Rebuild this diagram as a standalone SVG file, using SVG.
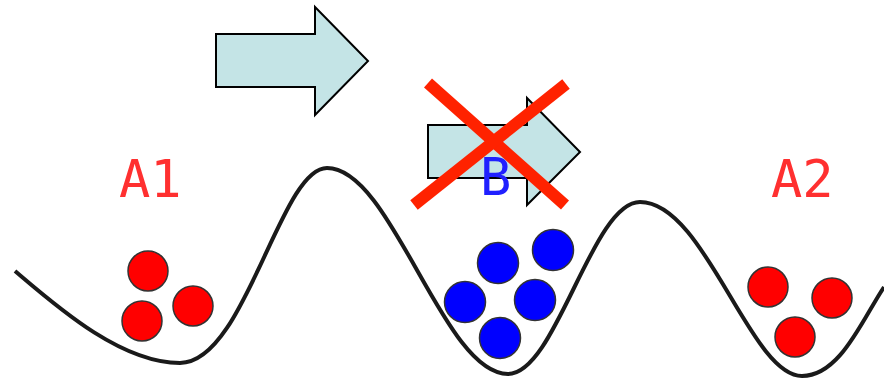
<svg xmlns="http://www.w3.org/2000/svg" width="884" height="379" viewBox="0 0 884 379">
<style>
.arrow{fill:#c4e4e6;stroke:#000;stroke-width:2;stroke-linejoin:miter}
.lbl{font-family:"DejaVu Sans Mono","Liberation Mono",monospace;font-size:52px}
.red{fill:#ff0000;stroke:#333;stroke-width:1.5}
.blue{fill:#0000ff;stroke:#333;stroke-width:1.5}
.cross{stroke:#ff2200;stroke-width:12;stroke-linecap:butt}
</style>
<rect width="884" height="379" fill="#fff"/>
<g id="landscape">
<path d="M15,271 C55,305 120,363 180,363 C245,363 280,168 327,168 C392,168 443,374 508,374 C556,374 592,202 640,202 C705,202 750,376 802,376 C840,376 862,320 884,287" fill="none" stroke="#1a1a1a" stroke-width="4"/>
</g>
<g id="arrow1"><path class="arrow" d="M216,34 L315,34 L315,7 L368,61 L315,115 L315,87 L216,87 Z"/></g>
<g id="arrow2"><path class="arrow" d="M428,125 L527,125 L527,98 L580,152 L527,205 L527,178 L428,178 Z"/></g>
<g id="A1">
<text class="lbl" x="119" y="197" fill="#ff3030">A1</text>
<circle class="red" cx="148" cy="271" r="20"/>
<circle class="red" cx="142" cy="321" r="20"/>
<circle class="red" cx="193" cy="306" r="20"/>
</g>
<g id="B">
<text class="lbl" x="480" y="195" fill="#2020ff">B</text>
<circle class="blue" cx="498" cy="263" r="20.5"/>
<circle class="blue" cx="553" cy="250" r="20.5"/>
<circle class="blue" cx="465" cy="302" r="20.5"/>
<circle class="blue" cx="535" cy="300" r="20.5"/>
<circle class="blue" cx="500" cy="338" r="20.5"/>
</g>
<g id="A2">
<text class="lbl" x="771" y="197" fill="#ff3030">A2</text>
<circle class="red" cx="768" cy="287" r="20"/>
<circle class="red" cx="832" cy="298" r="20"/>
<circle class="red" cx="795" cy="337" r="20"/>
</g>
<g id="cross">
<line class="cross" x1="428" y1="83" x2="565" y2="205"/>
<line class="cross" x1="566" y1="84" x2="414" y2="205"/>
</g>
</svg>
